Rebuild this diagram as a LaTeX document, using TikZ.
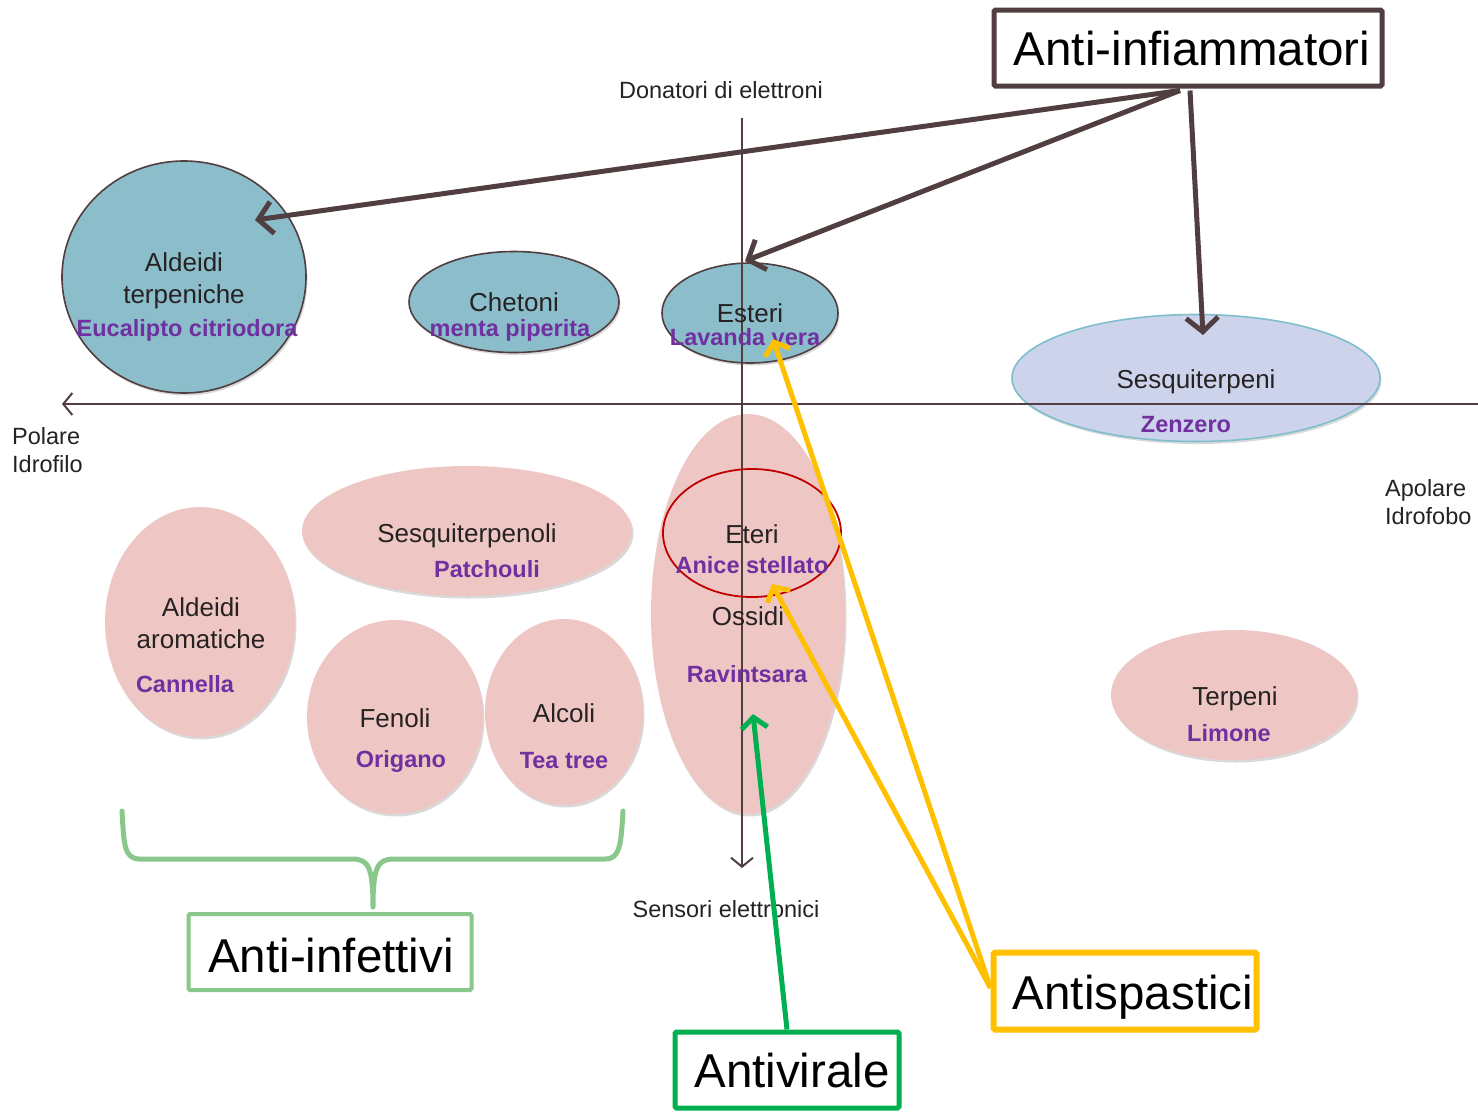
\documentclass[tikz,border=0pt]{standalone}
\usepackage{fontspec}
\setmainfont{Liberation Sans}
\usetikzlibrary{shapes.geometric,arrows.meta,shadows,calc}
\definecolor{dbrown}{RGB}{80,62,64}
\definecolor{tealc}{RGB}{139,189,203}
\definecolor{pinkc}{RGB}{238,199,197}
\definecolor{lavc}{RGB}{204,211,235}
\definecolor{lavb}{RGB}{127,190,204}
\definecolor{purp}{RGB}{112,48,160}
\definecolor{redc}{RGB}{192,0,0}
\definecolor{yel}{RGB}{255,192,0}
\definecolor{grn}{RGB}{0,176,80}
\definecolor{lgrn}{RGB}{137,199,139}
\definecolor{txt}{RGB}{38,34,34}
\begin{document}
\begin{tikzpicture}[x=1pt,y=-1pt,
  shd/.style={drop shadow={shadow xshift=1.5pt,shadow yshift=-2.5pt,opacity=0.15,fill=black}},
  tealell/.style={ellipse,draw=dbrown,line width=1.6pt,fill=tealc,inner sep=0pt,shd},
  pinkell/.style={ellipse,fill=pinkc,inner sep=0pt,shd},
  lbl/.style={font=\fontsize{26}{30}\selectfont,text=txt,anchor=base,inner sep=0pt},
  spc/.style={font=\fontsize{23.5}{28}\selectfont\bfseries,text=purp,anchor=base,inner sep=0pt},
  axl/.style={font=\fontsize{23.5}{28}\selectfont,text=txt,anchor=base west,inner sep=0pt},
  axline/.style={draw=dbrown,line width=2pt,-{Straight Barb[length=9pt,width=22pt]}},
  bigbox/.style={rectangle,draw,line width=5pt,fill=white,inner sep=0pt,rounded corners=1.5pt},
  bigtxt/.style={font=\fontsize{47.5}{56}\selectfont,text=black,anchor=base,inner sep=0pt},
  inflarrow/.style={draw=dbrown,line width=5pt,-{Straight Barb[length=14pt,width=32pt]}},
  yarrow/.style={draw=yel,line width=5pt,-{Straight Barb[length=11pt,width=26pt]}},
  garrow/.style={draw=grn,line width=5pt,-{Straight Barb[length=11pt,width=26pt]}},
]
\useasboundingbox[fill=white] (0,0) rectangle (1478,1112);

% ellipses
\node[tealell,minimum width=244pt,minimum height=232pt] (ald) at (184,277) {};
\node[tealell,minimum width=210pt,minimum height=101pt] (chet) at (514,302) {};
\node[tealell,minimum width=176pt,minimum height=100pt] (est) at (750,313) {};
\node[ellipse,draw=lavb,line width=1.6pt,fill=lavc,inner sep=0pt,shd,minimum width=368pt,minimum height=127pt] (sesq) at (1196,378) {};
\node[pinkell,minimum width=194pt,minimum height=400pt] (oss) at (748,614) {};
\node[pinkell,minimum width=330pt,minimum height=130pt] (sqol) at (467,531) {};
\node[pinkell,minimum width=190pt,minimum height=230pt] (alda) at (200,622) {};
\node[pinkell,minimum width=176pt,minimum height=194pt] (fen) at (395,717) {};
\node[pinkell,minimum width=158pt,minimum height=186pt] (alc) at (564,712) {};
\node[pinkell,minimum width=246pt,minimum height=130pt] (terp) at (1234,695) {};

% axes
\coordinate (hR) at (1478,404);
\coordinate (hL) at (62,404);
\draw[axline] (hR) -- (hL);
\coordinate (vT) at (742,118);
\coordinate (vB) at (742,868);
\draw[axline] (vT) -- (vB);

\node[ellipse,draw=redc,line width=1.8pt,inner sep=0pt,minimum width=178pt,minimum height=128pt] (eter) at (752,533) {};

% labels
\node[lbl] (t1) at (184,271) {Aldeidi};
\node[lbl] (t2) at (184,303) {terpeniche};
\node[spc] (s1) at (187,336) {Eucalipto citriodora};
\node[lbl] (t3) at (514,311) {Chetoni};
\node[spc] (s2) at (510,336) {menta piperita};
\node[lbl] (t4) at (750,322) {Esteri};
\node[spc] (s3) at (745,345) {Lavanda vera};
\node[lbl] (t5) at (1196,388) {Sesquiterpeni};
\node[spc] (s4) at (1186,432) {Zenzero};
\node[lbl] (t6) at (752,543) {Eteri};
\node[spc] (s5) at (752,573) {Anice stellato};
\node[lbl] (t7) at (748,625) {Ossidi};
\node[spc] (s6) at (747,682) {Ravintsara};
\node[lbl] (t8) at (467,542) {Sesquiterpenoli};
\node[spc] (s7) at (487,577) {Patchouli};
\node[lbl] (t9) at (201,616) {Aldeidi};
\node[lbl] (t10) at (201,648) {aromatiche};
\node[spc] (s8) at (185,692) {Cannella};
\node[lbl] (t11) at (395,727) {Fenoli};
\node[spc] (s9) at (401,767) {Origano};
\node[lbl] (t12) at (564,722) {Alcoli};
\node[spc] (s10) at (564,768) {Tea tree};
\node[lbl] (t13) at (1235,705) {Terpeni};
\node[spc] (s11) at (1229,741) {Limone};

\node[axl,anchor=base] (don) at (721,98) {Donatori di elettroni};
\node[axl,anchor=base] (sens) at (726,917) {Sensori elettronici};
\node[axl] (pol) at (12,444) {Polare};
\node[axl] (idf) at (12,472) {Idrofilo};
\node[axl] (apo) at (1385,496) {Apolare};
\node[axl] (idb) at (1385,524) {Idrofobo};

% brace
\draw[lgrn,line width=5pt,line cap=round,line join=round]
  (122,811) .. controls (124,845) and (124,859) .. (140,859) -- (352,859)
  .. controls (368,859) and (373,866) .. (373,907)
  .. controls (373,866) and (378,859) .. (394,859) -- (605,859)
  .. controls (620,859) and (621,845) .. (623,811);

% boxes
\node[bigbox,draw=dbrown,minimum width=388pt,minimum height=76pt] (aibox) at (1188,48) {};
\node[bigtxt] (aitxt) at (1192,65) {Anti-infiammatori};
\node[bigbox,draw=lgrn,line width=4pt,minimum width=283pt,minimum height=76pt] (aifbox) at (330,952) {};
\node[bigtxt] (aiftxt) at (331,972) {Anti-infettivi};
\node[bigbox,draw=grn,minimum width=224pt,minimum height=76pt] (avbox) at (787,1070) {};
\node[bigtxt] (avtxt) at (792,1087) {Antivirale};
\node[bigbox,draw=yel,line width=6pt,minimum width=263pt,minimum height=77pt] (asbox) at (1125,991) {};
\node[bigtxt] (astxt) at (1133,1009) {Antispastici};

% arrows
\coordinate (aldtip) at (255,220);
\coordinate (esttip) at (745,261);
\coordinate (sesqtip) at (1203,335);
\draw[inflarrow] ($(aibox.south)+(-8,2)$) -- (aldtip);
\draw[inflarrow] ($(aibox.south)+(-8,2)$) -- (esttip);
\draw[inflarrow] ($(aibox.south)+(2,2)$) -- (sesqtip);

\coordinate (lavtip) at (773,339);
\coordinate (anitip) at (772,584);
\draw[yarrow] ($(asbox.west)+(0,-3)$) -- (lavtip);
\draw[yarrow] ($(asbox.west)+(0,-3)$) -- (anitip);

\coordinate (ravtip) at (753,714);
\draw[garrow] (avbox.north) -- (ravtip);
\end{tikzpicture}
\end{document}
